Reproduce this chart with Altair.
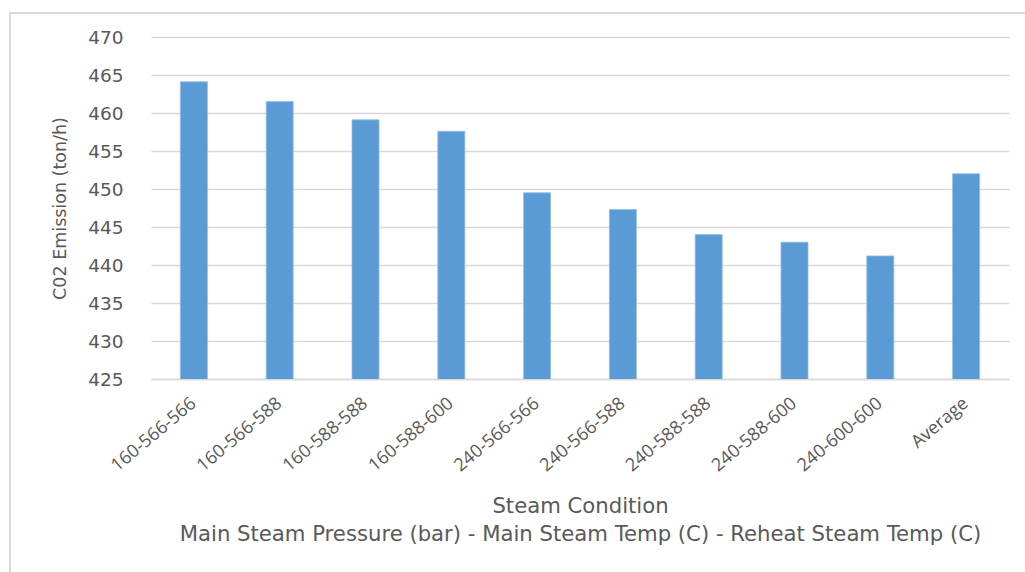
import altair as alt
import pandas as pd

categories = ["160-566-566", "160-566-588", "160-588-588", "160-588-600",
              "240-566-566", "240-566-588", "240-588-588", "240-588-600",
              "240-600-600", "Average"]
emissions = [464.1, 461.5, 459.1, 457.6, 449.5, 447.3, 444.0, 443.0, 441.2, 452.0]
y_ticks = [425, 430, 435, 440, 445, 450, 455, 460, 465, 470]

df = pd.DataFrame({"cond": categories, "co2": emissions})

W, H = 858, 342
TEXT = "#595959"

bars = alt.Chart(df).mark_bar(size=27, color="#5B9BD5", stroke="#8fbbe6", strokeWidth=0.8, clip=True).encode(
    x=alt.X("cond:N", sort=categories,
            scale=alt.Scale(paddingInner=0, paddingOuter=0),
            axis=alt.Axis(title=["Steam Condition",
                                 "Main Steam Pressure (bar) - Main Steam Temp (C) - Reheat Steam Temp (C)"],
                          labelAngle=-40, labelAlign="right", labelBaseline="middle",
                          labelPadding=22, labelFontSize=18, labelColor=TEXT, labelFont="Open Sans",
                          ticks=False, domain=True, domainColor="#d9d9d9", domainWidth=1.5,
                          titleFont="DejaVu Sans", titleFontSize=21.2, titleFontWeight="normal",
                          titleColor=TEXT, titleX=W / 2, titleY=116, titleBaseline="top",
                          titleAlign="center", titleLineHeight=28)),
    y=alt.Y("co2:Q", scale=alt.Scale(domain=[425, 470], nice=False, zero=False),
            axis=alt.Axis(title="C02 Emission (ton/h)", values=y_ticks, ticks=False, domain=False,
                          gridColor="#d9d9d9", gridWidth=1.5, labelPadding=28,
                          labelFont="DejaVu Sans", labelFontSize=18.5, labelColor=TEXT,
                          titleFont="DejaVu Sans", titleFontSize=17.5, titleFontWeight="normal",
                          titleColor=TEXT, titleX=-91, titleY=H / 2, titleAngle=-90,
                          titleAlign="center", titleBaseline="middle")),
)

frame = alt.Chart(pd.DataFrame({"a": [0]})).mark_rect(
    fillOpacity=0, stroke="#d9d9d9", strokeWidth=2
).encode(x=alt.value(-141), x2=alt.value(1000), y=alt.value(-24), y2=alt.value(600))

chart = alt.layer(frame, bars).properties(
    width=W, height=H,
    autosize=alt.AutoSizeParams(type="none"),
    padding={"left": 151, "top": 37, "right": 16, "bottom": 193},
    background="white",
).configure_view(stroke=None)

chart.save("out.html", embed_options={"renderer": "svg", "actions": False})
